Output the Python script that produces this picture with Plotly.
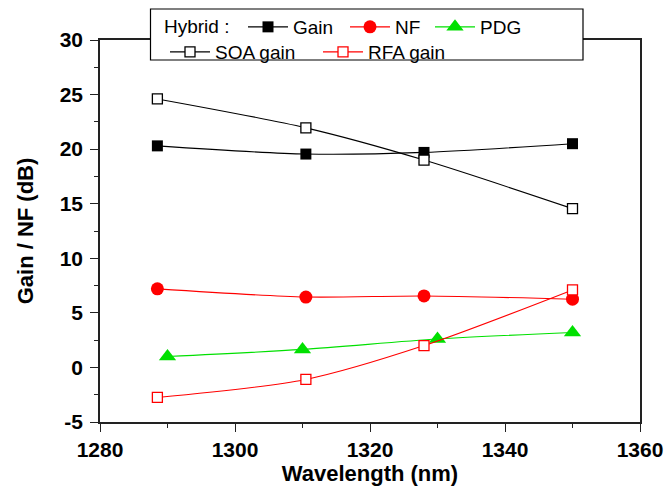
import plotly.graph_objects as go

# ---- data ----
wl_main = [1288.5, 1310.5, 1328.0, 1350.0]
wl_pdg = [1290.0, 1310.0, 1330.0, 1350.0]
gain = [20.3, 19.55, 19.7, 20.5]
nf = [7.2, 6.45, 6.55, 6.25]
pdg = [1.0, 1.65, 2.6, 3.2]
soa_gain = [24.6, 21.95, 19.0, 14.55]
rfa_gain = [-2.75, -1.1, 2.0, 7.1]

x_ticks = [1280, 1300, 1320, 1340, 1360]
x_ticktext = ["1280", "1300", "1320", "1340", "1360"]
y_ticks = [-5, 0, 5, 10, 15, 20, 25, 30]
y_ticktext = ["-5", "0", "5", "10", "15", "20", "25", "30"]

FONT = "Arial, Liberation Sans, sans-serif"
RED = "#ff0000"
GREEN = "#00e000"

L, R, T, B = 100, 32, 40, 65
W, H = 672, 487
pw, ph = W - L - R, H - T - B

def px(xp):
    return (xp - L) / pw

def py(yp):
    return (T + ph - yp) / ph

LEG_FONT = dict(family=FONT, size=19, color="black")

fig = go.Figure()

# legend entry placement (pixel left of the entry, row centre)
legend_slots = {
    "legend": (243, 27),
    "legend2": (345, 27),
    "legend3": (430, 27),
    "legend4": (165, 52),
    "legend5": (318, 52),
}

def add(x, y, name, color, symbol, size, legend, fill=None):
    fig.add_trace(go.Scatter(
        x=x, y=y, name=name, mode="lines+markers",
        line=dict(color=color, width=1.1, shape="spline", smoothing=0.8),
        marker=dict(symbol=symbol, size=size, color=fill if fill else color,
                    line=dict(color=color, width=1.3 if fill else 0)),
        legend=legend, showlegend=True,
    ))

add(wl_main, gain, "Gain", "black", "square", 11, "legend")
add(wl_main, nf, "NF", RED, "circle", 13, "legend2")
add(wl_pdg, pdg, "PDG", GREEN, "triangle-up", 15, "legend3")
add(wl_main, soa_gain, "SOA gain", "black", "square", 10, "legend4", fill="white")
add(wl_main, rfa_gain, "RFA gain", RED, "square", 10, "legend5", fill="white")

axis_common = dict(
    showline=True, linecolor="#222", linewidth=1.5, mirror=True,
    ticks="outside", ticklen=8, tickwidth=1.3, tickcolor="#222",
    showgrid=False, zeroline=False, automargin=False,
    tickfont=dict(family=FONT, size=21, color="black", weight="bold"),
)

legends = {}
for key, (lx, ly) in legend_slots.items():
    legends[key] = dict(
        orientation="h", x=px(lx), y=py(ly), xanchor="left", yanchor="middle",
        xref="paper", yref="paper",
        bgcolor="rgba(0,0,0,0)", borderwidth=0,
        font=LEG_FONT, itemwidth=40, visible=True,
    )

fig.update_layout(
    width=W, height=H,
    showlegend=True,
    margin=dict(l=L, r=R, t=T, b=B, autoexpand=False),
    paper_bgcolor="white", plot_bgcolor="white",
    font=dict(family=FONT, color="black"),
    xaxis=dict(
        range=[1280, 1360], tickvals=x_ticks, ticktext=x_ticktext,
        minor=dict(dtick=10, tick0=1280, ticks="outside", ticklen=4, tickcolor="#222", tickwidth=1.3),
        title=dict(text="Wavelength (nm)", font=dict(family=FONT, size=22, weight="bold"), standoff=6),
        **axis_common,
    ),
    yaxis=dict(
        range=[-5, 30], tickvals=y_ticks, ticktext=y_ticktext,
        minor=dict(dtick=2.5, tick0=0, ticks="outside", ticklen=4, tickcolor="#222", tickwidth=1.3),
        title=dict(text="Gain / NF (dB)", font=dict(family=FONT, size=22, weight="bold"), standoff=20),
        ticklabelstandoff=3,
        **axis_common,
    ),
    **legends,
    annotations=[dict(text="Hybrid :", xref="paper", yref="paper", x=px(162), y=py(27),
                      xanchor="left", yanchor="middle", showarrow=False, font=LEG_FONT)],
    shapes=[dict(type="rect", xref="paper", yref="paper",
                 x0=px(150.5), x1=px(583), y0=py(60), y1=py(9),
                 line=dict(color="black", width=1.2), fillcolor="white", layer="above")],
)

fig.write_html("out.html")
